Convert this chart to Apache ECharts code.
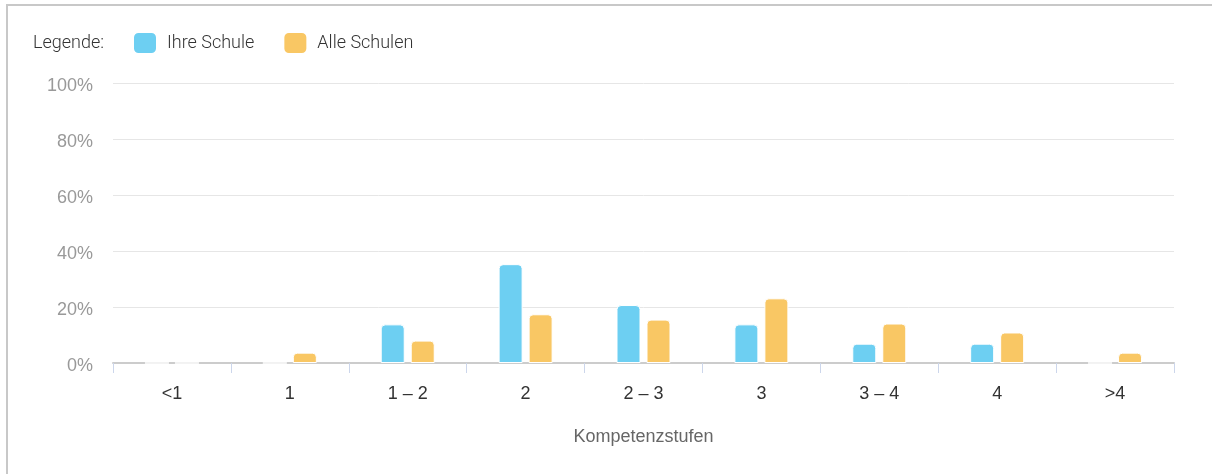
<!DOCTYPE html>
<html>
<head>
<meta charset="utf-8">
<script src="https://cdn.jsdelivr.net/npm/echarts@6/dist/echarts.min.js"></script>
<style>
  html, body { margin: 0; padding: 0; background: #fff; }
  #chart { width: 1212px; height: 474px; }
</style>
</head>
<body>
<div id="chart"></div>
<script>
// Kompetenzstufen and the share of pupils (in %) per level
const categories = ['<1', '1', '1 – 2', '2', '2 – 3', '3', '3 – 4', '4', '>4'];
const ihreSchule = [0, 0, 13.8, 35.3, 20.7, 13.8, 6.9, 6.9, 0];
const alleSchulen = [0, 3.7, 8.0, 17.4, 15.5, 23.1, 14.1, 10.9, 3.7];
const yTicks = [0, 20, 40, 60, 80, 100];

const blue = '#6dcff2';
const orange = '#f9c764';
const axisFont = '"Liberation Sans", Arial, sans-serif';
const legendFont = 'Roboto, "Liberation Sans", sans-serif';

const chart = echarts.init(document.getElementById('chart'), null, { renderer: 'canvas' });

chart.setOption({
  animation: false,
  backgroundColor: '#fff',
  graphic: [
    { type: 'line', shape: { x1: 7, y1: 4, x2: 7, y2: 474 }, style: { stroke: '#c8c8c8', lineWidth: 2 } },
    { type: 'line', shape: { x1: 6, y1: 5, x2: 1212, y2: 5 }, style: { stroke: '#c8c8c8', lineWidth: 2 } },
    { type: 'text', left: 33, top: 34,
      style: { text: 'Legende:', fill: '#333', font: '300 18px ' + legendFont } }
  ],
  legend: {
    left: 127,
    top: 26,
    itemWidth: 24,
    itemHeight: 22,
    itemGap: 28,
    icon: 'roundRect',
    textStyle: { color: '#333', fontSize: 18, fontFamily: legendFont, fontWeight: 300, padding: [0, 0, 0, 5] },
    data: ['Ihre Schule', 'Alle Schulen']
  },
  grid: { left: 113, right: 38, top: 83, bottom: 111 },
  xAxis: {
    type: 'category',
    data: categories,
    name: 'Kompetenzstufen',
    nameLocation: 'middle',
    nameGap: 65,
    nameTextStyle: { color: '#666', fontSize: 18, fontFamily: axisFont },
    axisLine: { lineStyle: { color: '#cccccc', width: 2 } },
    axisTick: { show: true, length: 10, lineStyle: { color: '#ccd6eb' } },
    axisLabel: { color: '#333', fontSize: 18, fontFamily: axisFont, margin: 22 }
  },
  yAxis: {
    type: 'value',
    min: yTicks[0],
    max: yTicks[yTicks.length - 1],
    interval: 20,
    axisLine: { show: false },
    axisTick: { show: false },
    axisLabel: {
      margin: 20,
      formatter: '{p|{value}%}',
      rich: { p: { color: '#999', fontSize: 18, fontFamily: axisFont, padding: [7, 0, 0, 0] } }
    },
    splitLine: { lineStyle: { color: '#e6e6e6' } }
  },
  series: [
    {
      name: 'Ihre Schule',
      type: 'bar',
      data: ihreSchule,
      barWidth: 24,
      barGap: '25%',
      itemStyle: { color: blue, borderRadius: [4, 4, 0, 0], borderColor: '#fff', borderWidth: 1 }
    },
    {
      name: 'Alle Schulen',
      type: 'bar',
      data: alleSchulen,
      barWidth: 24,
      itemStyle: { color: orange, borderRadius: [4, 4, 0, 0], borderColor: '#fff', borderWidth: 1 }
    }
  ]
});
</script>
</body>
</html>
